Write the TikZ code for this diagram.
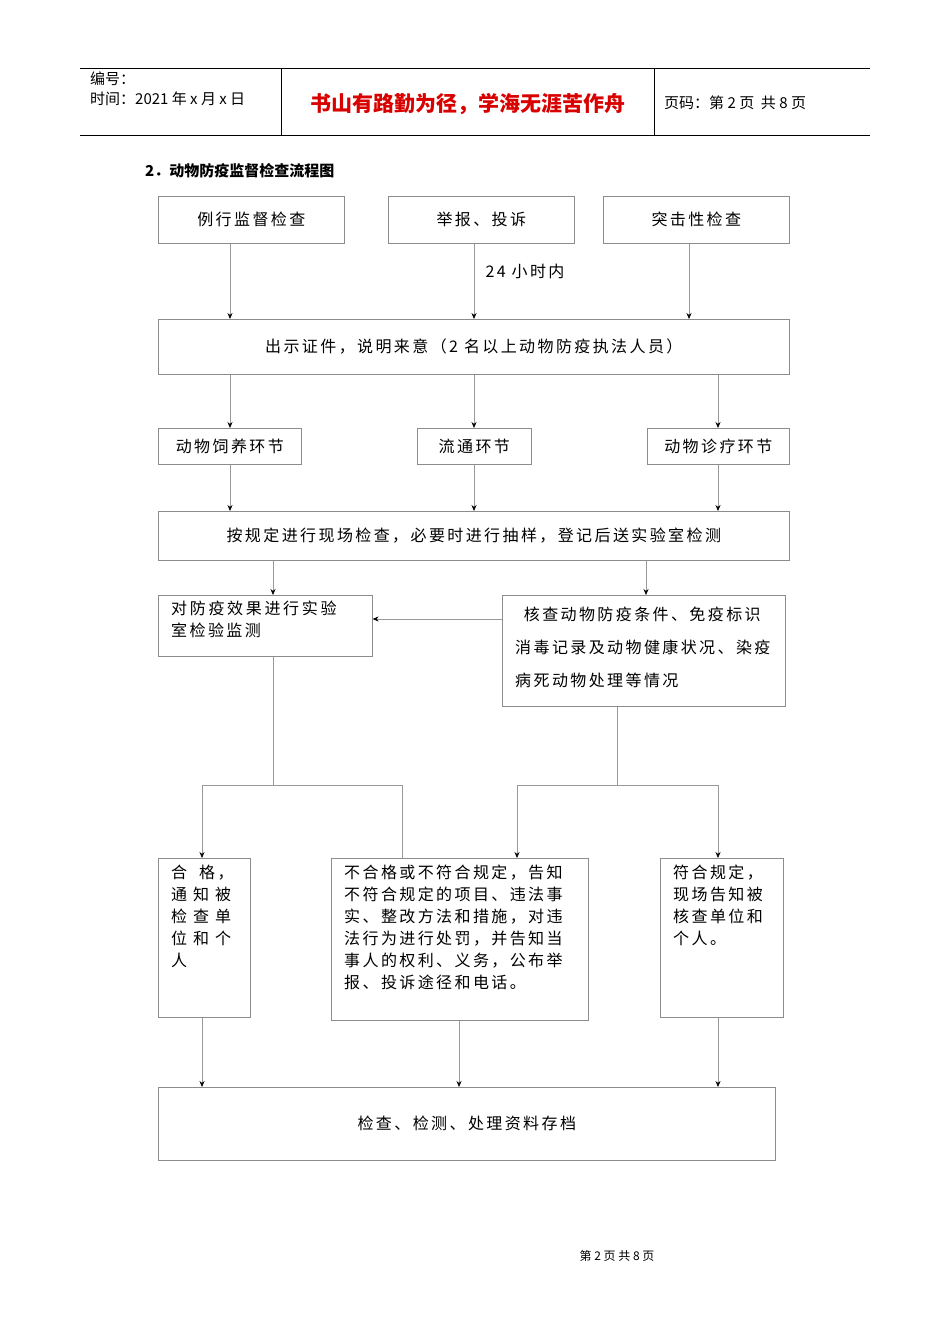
\documentclass[tikz,border=0pt]{standalone}
\usepackage{fontspec}
\setmainfont{Noto Sans CJK SC}
\newfontfamily\spc[LetterSpace=15]{Noto Sans CJK SC}
\usetikzlibrary{arrows.meta}
\begin{document}
\begin{tikzpicture}[x=1pt,y=-1pt,
 bx/.style={draw=black!45,line width=0.6pt,anchor=north west,inner sep=0pt},
 tx/.style={font=\fontsize{16}{20}\selectfont\spc},
 px/.style={anchor=north west,align=left,inner sep=0pt,font=\fontsize{16}{22}\selectfont\spc},
 ln/.style={draw=black!40,line width=0.6pt},
 arr/.style={ln,-{Stealth[length=6pt,width=5pt,black]}},
 hd/.style={font=\fontsize{15}{18}\selectfont,anchor=west,inner sep=0pt}]
\useasboundingbox (0,0) rectangle (950,1344);
% header
\draw[black,line width=0.8pt] (80,68)--(870,68) (80,135)--(870,135) (281,68)--(281,135) (654,68)--(654,135);
\node[hd] (h1) at (90,79) {编号：};
\node[hd] (h2) at (90,99) {时间：2021 年 x 月 x 日};
\node[font=\fontsize{21}{24}\selectfont\bfseries,text=red!85!black,inner sep=0pt] (h3) at (468,104) {书山有路勤为径，学海无涯苦作舟};
\node[hd] (h4) at (664,103) {页码：第 2 页\ \ 共 8 页};
\node[hd,font=\fontsize{15}{18}\selectfont\bfseries] (title) at (145,171) {2．动物防疫监督检查流程图};
\foreach \n in {202,230,273,402,459,474,517,617,646,689,718}{\coordinate (x\n) at (\n,0);}
\node[bx,minimum width=186,minimum height=47] (b1) at (158,196) {};
\node at (b1.center) [tx] (t1) {例行监督检查};
\node[bx,minimum width=186,minimum height=47] (b2) at (388,196) {};
\node at (b2.center) [tx] (t2) {举报、投诉};
\node[bx,minimum width=186,minimum height=47] (b3) at (603,196) {};
\node at (b3.center) [tx] (t3) {突击性检查};
\node[tx] (lab) at (525,271) {24 小时内};
\node[bx,minimum width=631,minimum height=55] (b4) at (158,319) {};
\node at (b4.center) [tx] (t4) {出示证件，说明来意（2 名以上动物防疫执法人员）};
\draw[arr] (b1.south -| x230) -- (b4.north -| x230);
\draw[arr] (b2.south -| x474) -- (b4.north -| x474);
\draw[arr] (b3.south -| x689) -- (b4.north -| x689);
\node[bx,minimum width=143,minimum height=36] (b5) at (158,428) {};
\node at (b5.center) [tx] (t5) {动物饲养环节};
\node[bx,minimum width=114,minimum height=36] (b6) at (417,428) {};
\node at (b6.center) [tx] (t6) {流通环节};
\node[bx,minimum width=142,minimum height=36] (b7) at (647,428) {};
\node at (b7.center) [tx] (t7) {动物诊疗环节};
\draw[arr] (b4.south -| x230) -- (b5.north -| x230);
\draw[arr] (b4.south -| x474) -- (b6.north -| x474);
\draw[arr] (b4.south -| x718) -- (b7.north -| x718);
\node[bx,minimum width=631,minimum height=49] (b8) at (158,511) {};
\node at (b8.center) [tx] (t8) {按规定进行现场检查，必要时进行抽样，登记后送实验室检测};
\draw[arr] (b5.south -| x230) -- (b8.north -| x230);
\draw[arr] (b6.south -| x474) -- (b8.north -| x474);
\draw[arr] (b7.south -| x718) -- (b8.north -| x718);
\node[bx,minimum width=214,minimum height=61] (b9) at (158,595) {};
\node[px] (t9) at (171,601) {对\,防\,疫\,效\,果\,进\,行\,实\,验\\室检验监测};
\node[bx,minimum width=283,minimum height=111] (b10) at (502,595) {};
\node[px,font=\fontsize{16}{33}\selectfont\spc] (t10) at (515,607) {\ \,核查动物防疫条件、免疫标识\\消毒记录及动物健康状况、染疫\\病死动物处理等情况};
\draw[arr] (b8.south -| x273) -- (b9.north -| x273);
\draw[arr] (b8.south -| x646) -- (b10.north -| x646);
\draw[arr] (b10.west |- 0,619) -- (b9.east |- 0,619);
\node[bx,minimum width=92,minimum height=159] (b11) at (158,858) {};
\node[px] (t11) at (171,865) {合\ \ 格，\\通\ 知\ 被\\检\ 查\ 单\\位\ 和\ 个\\人};
\node[bx,minimum width=257,minimum height=162] (b12) at (331,858) {};
\node[px] (t12) at (344,865) {不合格或不符合规定，告知\\不符合规定的项目、违法事\\实、整改方法和措施，对违\\法行为进行处罚，并告知当\\事人的权利、义务，公布举\\报、投诉途径和电话。};
\node[bx,minimum width=123,minimum height=159] (b13) at (660,858) {};
\node[px] (t13) at (673,865) {符合规定，\\现场告知被\\核查单位和\\个人。};
\coordinate (j1) at (273,785);
\coordinate (j2) at (617,785);
\draw[ln] (b9.south -| x273) -- (j1);
\draw[ln] (b10.south -| x617) -- (j2);
\draw[ln] (202,785) -- (402,785);
\draw[ln] (517,785) -- (718,785);
\draw[arr] (202,785) -- (b11.north -| x202);
\draw[ln] (402,785) -- (b12.north -| x402);
\draw[arr] (517,785) -- (b12.north -| x517);
\draw[arr] (718,785) -- (b13.north -| x718);
\node[bx,minimum width=617,minimum height=73] (b14) at (158,1087) {};
\node at (b14.center) [tx] (t14) {检查、检测、处理资料存档};
\draw[arr] (b11.south -| x202) -- (b14.north -| x202);
\draw[arr] (b12.south -| x459) -- (b14.north -| x459);
\draw[arr] (b13.south -| x718) -- (b14.north -| x718);
\node[font=\fontsize{12}{14}\selectfont] (foot) at (617,1256) {第\ 2\ 页\ 共\ 8\ 页};
\end{tikzpicture}
\end{document}
